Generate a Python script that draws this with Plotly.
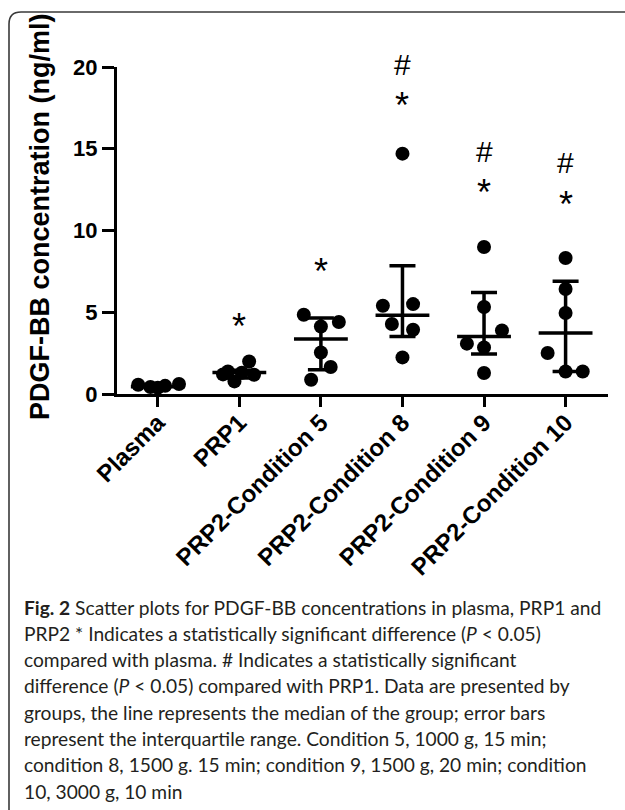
import plotly.graph_objects as go
import numpy as np

# ---------------- data ----------------
categories = ["Plasma", "PRP1", "PRP2-Condition 5", "PRP2-Condition 8",
              "PRP2-Condition 9", "PRP2-Condition 10"]

plasma_vals = [0.57, 0.43, 0.38, 0.50, 0.61]
plasma_jit = [-0.24, -0.09, 0.0, 0.09, 0.26]

prp1_vals = [1.20, 1.38, 0.77, 1.30, 1.99, 1.18]
prp1_jit = [-0.20, -0.14, -0.06, 0.03, 0.12, 0.18]

c5_vals = [4.85, 4.40, 4.13, 2.54, 1.65, 0.87]
c5_jit = [-0.21, 0.22, 0.0, 0.0, 0.12, -0.12]

c8_vals = [14.7, 5.40, 5.50, 4.28, 3.93, 2.24]
c8_jit = [0.0, -0.24, 0.13, -0.13, 0.13, 0.0]

c9_vals = [8.99, 5.32, 3.89, 3.08, 2.85, 1.28]
c9_jit = [0.0, 0.0, 0.22, -0.21, 0.0, 0.0]

c10_vals = [8.32, 6.42, 4.95, 2.51, 1.38, 1.38]
c10_jit = [0.0, 0.0, 0.0, -0.22, 0.0, 0.21]

medians = [0.45, 1.32, 3.36, 4.81, 3.52, 3.73]
q1 = [0.38, 0.98, 1.49, 3.52, 2.45, 1.38]
q3 = [0.57, 1.45, 4.65, 7.85, 6.21, 6.89]

star_y = [None, 4.38, 7.71, 17.9, 12.54, 11.84]
hash_y = [None, None, None, 20.14, 14.84, 14.13]

ytick_vals = [0, 5, 10, 15, 20]
y_range = [0, 20]
y_title = "PDGF-BB concentration (ng/ml)"

caption_lines = [
    "<b>Fig. 2</b> Scatter plots for PDGF-BB concentrations in plasma, PRP1 and",
    "PRP2 * Indicates a statistically significant difference (<i>P</i> &lt; 0.05)",
    "compared with plasma. # Indicates a statistically significant",
    "difference (<i>P</i> &lt; 0.05) compared with PRP1. Data are presented by",
    "groups, the line represents the median of the group; error bars",
    "represent the interquartile range. Condition 5, 1000 g, 15 min;",
    "condition 8, 1500 g. 15 min; condition 9, 1500 g, 20 min; condition",
    "10, 3000 g, 10 min",
]

groups = [(plasma_vals, plasma_jit), (prp1_vals, prp1_jit), (c5_vals, c5_jit),
          (c8_vals, c8_jit), (c9_vals, c9_jit), (c10_vals, c10_jit)]

# ---------------- layout geometry (pixels) ----------------
W, H = 625, 810
L, R, T, B = 117, 608, 67, 394
STAR_SHIFT_PX = 4   # asterisk glyph sits high in the font box


def px(x):
    return (x - L) / (R - L)


def py(y):
    return (B - y) / (B - T)


def yval_to_paper(v):
    return (v - y_range[0]) / (y_range[1] - y_range[0])


fig = go.Figure()

AX_FONT = "Liberation Sans, Arial, sans-serif"

# points
for i, (vals, jit) in enumerate(groups):
    fig.add_trace(go.Scatter(
        x=[i + j for j in jit], y=vals, mode="markers",
        marker=dict(size=14, color="black", line=dict(width=0)),
        cliponaxis=False, showlegend=False, hoverinfo="skip"))

# median + IQR
med = np.array(medians)
fig.add_trace(go.Scatter(
    x=list(range(len(categories))), y=medians, mode="markers",
    marker=dict(size=1, color="rgba(0,0,0,0)"),
    error_y=dict(type="data", symmetric=False,
                 array=list(np.array(q3) - med),
                 arrayminus=list(med - np.array(q1)),
                 width=13, thickness=3.5, color="black"),
    error_x=dict(type="data", symmetric=True, array=[0.33] * len(categories),
                 width=0, thickness=3.5, color="black"),
    cliponaxis=False, showlegend=False, hoverinfo="skip"))

annotations = []
for i in range(len(categories)):
    if star_y[i] is not None:
        annotations.append(dict(x=i, y=yval_to_paper(star_y[i]), xref="x", yref="paper",
                                yshift=-STAR_SHIFT_PX,
                                text="*", showarrow=False, yanchor="middle",
                                xanchor="center",
                                font=dict(family=AX_FONT, size=36, color="black")))
    if hash_y[i] is not None:
        annotations.append(dict(x=i, y=yval_to_paper(hash_y[i]), xref="x", yref="paper",
                                text="#", showarrow=False, yanchor="middle",
                                xanchor="center",
                                font=dict(family=AX_FONT, size=30, color="black")))

# y-axis title
annotations.append(dict(x=px(40), y=py(217), xref="paper", yref="paper",
                        text="<b>" + y_title + "</b>", textangle=-90,
                        showarrow=False, xanchor="center", yanchor="middle",
                        font=dict(family=AX_FONT, size=27, color="black")))

# caption
for k, line in enumerate(caption_lines):
    annotations.append(dict(x=px(22), y=py(607 + 26.3 * k), xref="paper", yref="paper",
                            text=line, showarrow=False, xanchor="left", yanchor="middle",
                            align="left",
                            font=dict(family="Lato, Open Sans, sans-serif", size=19.2,
                                      color="#231f20")))

# frame
frame_path = (f"M {px(9)},{py(840)} L {px(9)},{py(24)} "
              f"Q {px(9)},{py(12)} {px(21)},{py(12)} L {px(640)},{py(12)}")
shapes = [dict(type="path", xref="paper", yref="paper", path=frame_path,
               line=dict(color="#3a3a3a", width=1.6))]

fig.update_layout(
    width=W, height=H,
    margin=dict(l=L, r=W - R, t=T, b=H - B, pad=0),
    paper_bgcolor="white", plot_bgcolor="white",
    showlegend=False,
    annotations=annotations, shapes=shapes,
    xaxis=dict(range=[-0.5, 5.52], tickmode="array",
               tickvals=list(range(len(categories))), ticktext=categories,
               tickangle=-45, ticks="outside", ticklen=10, tickwidth=3,
               ticklabelstandoff=-8,
               tickcolor="black", showline=True, linewidth=3, linecolor="black",
               showgrid=False, zeroline=False,
               tickfont=dict(family=AX_FONT, size=24, color="black", weight="bold")),
    yaxis=dict(range=y_range, tickmode="array", tickvals=ytick_vals,
               ticks="outside", ticklen=12, tickwidth=3, tickcolor="black",
               showline=True, linewidth=3, linecolor="black",
               showgrid=False, zeroline=False,
               tickfont=dict(family=AX_FONT, size=22, color="black", weight="bold")),
)

fig.write_html("out.html", config={"displayModeBar": False},
               post_script="document.body.style.margin='0';document.body.style.overflow='hidden';")
